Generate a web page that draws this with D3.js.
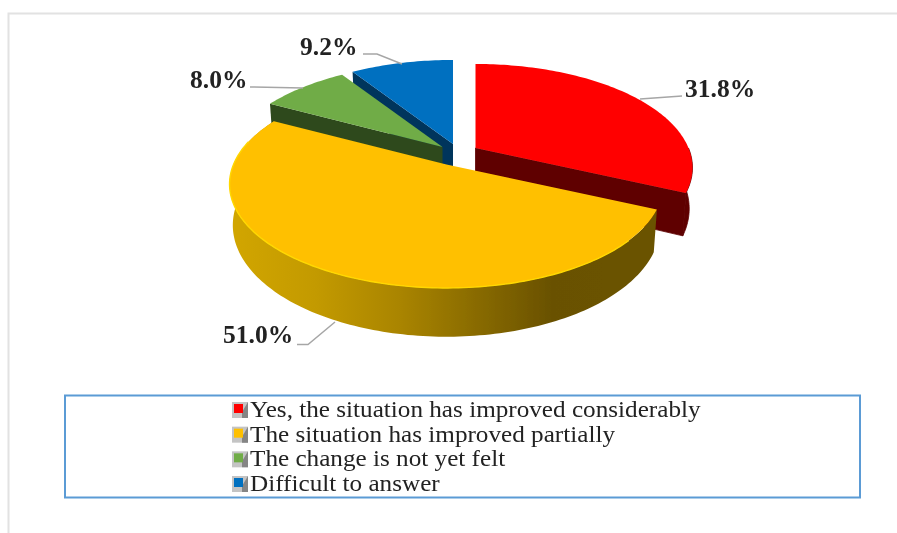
<!DOCTYPE html>
<html><head><meta charset="utf-8">
<script src="https://cdn.jsdelivr.net/npm/d3@7/dist/d3.min.js"></script>
<style>html,body{margin:0;padding:0;background:#fff}svg{display:block}</style>
</head><body><svg id="c" width="897" height="533"></svg>
<script>
const categories = ["Yes, the situation has improved considerably","The situation has improved partially","The change is not yet felt","Difficult to answer"];
const values = [31.8,51.0,8.0,9.2];
const valueLabels = ["31.8%","51.0%","8.0%","9.2%"];
const topColors = ["#ff0000","#ffc000","#6fac46","#0070c0"];
const sideColors = ["#5e0000","#7a5e00","#2f4a1b","#00345c"];

const svg = d3.select("#c");
const defs = svg.append("defs");
// perspective disc projection
const R = 213, K = 100, P = 0.19, DEPTH = 39.5, SHRINK = 0.985;
const apex = [[475.5,148],[446.5,164.5],[442.5,147],[453,144]];
const sx = d3.scaleLinear().domain([-1,1]).range([-R,R]);
const sy = d3.scaleLinear().domain([-1,1]).range([-K,K]);
function project(i, a, r, drop){
  const x = r*Math.sin(a), y = -r*Math.cos(a), t = 1/(1-P*y);
  return [apex[i][0]+sx(x)*t*(drop?SHRINK:1), apex[i][1]+sy(y)*t+(drop?DEPTH*t:0)];
}
const pie = d3.pie().sort(null).value(d=>d)(values);
const line = d3.line();
function arcPts(i,a0,a1,drop){
  const n = Math.max(2,Math.ceil(Math.abs(a1-a0)/0.02));
  return d3.range(n+1).map(k=>project(i,a0+(a1-a0)*k/n,1,drop));
}
function topPath(i){const p=pie[i];return line([project(i,0,0,false),...arcPts(i,p.startAngle,p.endAngle,false)])+"Z";}
function radialWall(i,a){return line([project(i,a,0,false),project(i,a,1,false),project(i,a,1,true),project(i,a,0,true)])+"Z";}
function rimWall(i,a0,a1){return line([...arcPts(i,a0,a1,false),...arcPts(i,a1,a0,true)])+"Z";}

const grad = defs.append("linearGradient").attr("id","rim").attr("gradientUnits","userSpaceOnUse")
  .attr("x1",229).attr("x2",660).attr("y1",0).attr("y2",0);
[[0,"#d2a600"],[0.2,"#c39a00"],[0.4,"#a98400"],[0.6,"#846700"],[0.75,"#695100"],[1,"#6b5300"]]
  .forEach(s=>grad.append("stop").attr("offset",s[0]).attr("stop-color",s[1]));
defs.append("filter").attr("id","soft").append("feGaussianBlur").attr("stdDeviation",0.5);
defs.append("filter").attr("id","softer").append("feGaussianBlur").attr("stdDeviation",0.3);

// frame of the picture
svg.append("path").attr("d","M8.5,533V13.5H897").attr("fill","none").attr("stroke","#e2e2e2").attr("stroke-width",2);

const g = svg.append("g").attr("filter","url(#soft)");
// blue, green, red, then yellow on top
[3,2,0].forEach(i=>{
  const p = pie[i];
  g.append("path").attr("d",radialWall(i,p.startAngle)).attr("fill",sideColors[i]);
  if(i===0){
    g.append("path").attr("d",rimWall(i,Math.PI/2,p.endAngle)).attr("fill",sideColors[i]).attr("stroke",sideColors[i]).attr("stroke-width",0.8);
    g.append("path").attr("d",radialWall(i,p.endAngle)).attr("fill",sideColors[i]).attr("stroke",sideColors[i]).attr("stroke-width",0.8);
  }
  g.append("path").attr("d",topPath(i)).attr("fill",topColors[i]);
});
const y = pie[1];
g.append("path").attr("d",rimWall(1,y.startAngle,y.endAngle)).attr("fill","url(#rim)");
g.append("path").attr("d",topPath(1)).attr("fill",topColors[1]);
g.append("path").attr("d",line(arcPts(1,y.startAngle+0.3,y.endAngle-0.25,false))).attr("fill","none").attr("stroke","#ffd800").attr("stroke-width",1.4);

// data labels with leader lines
const labelPos = [[685,97],[223,343],[190,88],[300,55]];
const leaders = [[[640,99],[682,96]],[[335,322],[308,344.5],[297,344.5]],[[250,87],[303,88]],[[363,54],[377,54],[402,64]]];
leaders.forEach(l=>svg.append("path").attr("d",d3.line()(l)).attr("fill","none").attr("stroke","#a6a6a6").attr("stroke-width",1.5));
const tg = svg.append("g").attr("filter","url(#softer)");
valueLabels.forEach((t,i)=>tg.append("text").attr("x",labelPos[i][0]).attr("y",labelPos[i][1])
  .attr("font-family","Liberation Serif").attr("font-weight","bold").attr("font-size",25.5).attr("fill","#222").text(t));

// legend
svg.append("rect").attr("x",65).attr("y",395.5).attr("width",795).attr("height",102).attr("fill","none").attr("stroke","#5b9bd5").attr("stroke-width",2);
const rowY = d3.scalePoint().domain(d3.range(categories.length)).range([417,491]);
categories.forEach((c,i)=>{
  const yy=rowY(i);
  tg.append("rect").attr("x",232).attr("y",yy-15).attr("width",16).attr("height",16).attr("fill","#c4c4c4");
  tg.append("path").attr("d",d3.line()([[248,yy-15],[248,yy+1],[242,yy+1],[242,yy-5]])+"Z").attr("fill","#858585");
  tg.append("rect").attr("x",234).attr("y",yy-13).attr("width",9).attr("height",9).attr("fill",topColors[i]);
  tg.append("text").attr("transform",`translate(250,${yy}) scale(1.095,1)`).attr("font-family","Liberation Serif").attr("font-size",23).attr("fill","#222").text(c);
});
</script></body></html>
